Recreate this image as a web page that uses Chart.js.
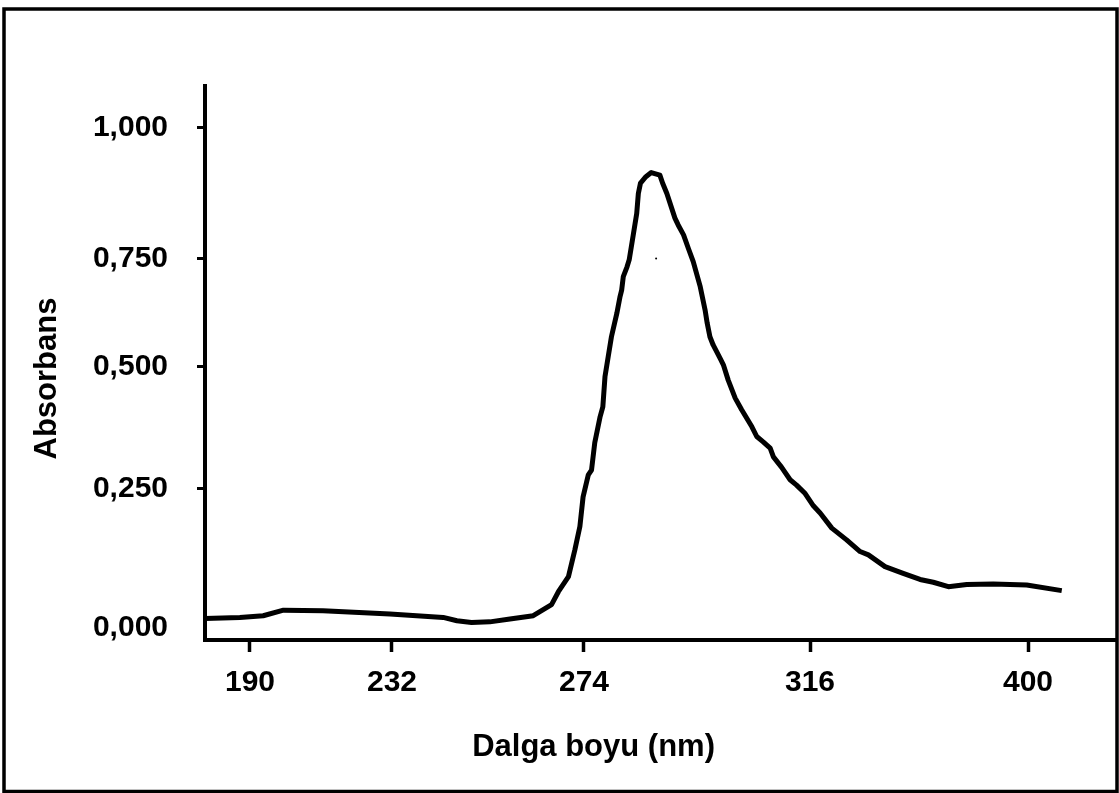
<!DOCTYPE html>
<html>
<head>
<meta charset="utf-8">
<script src="https://cdn.jsdelivr.net/npm/chart.js@4"></script>
<style>
  body { margin: 0; background: #fff; }
  canvas { display: block; }
</style>
</head>
<body>
<canvas id="grafik" width="1119" height="793"></canvas>
<script>
// Okunan spektrum (dalga boyu nm, absorbans)
const dalgaBoyu = [176.7,187.0,193.9,199.9,211.6,231.4,243.2,246.2,249.4,253.4,
  257.8,262.9,266.9,268.4,270.6,272.0,273.1,273.8,274.8,275.4,
  276.0,277.0,277.5,277.9,278.5,279.1,280.1,280.7,281.0,281.3,
  282.0,282.4,283.2,283.8,284.1,284.5,285.5,286.5,288.1,288.6,
  289.4,290.9,291.5,292.5,293.4,294.3,295.6,296.5,296.9,297.4,
  298.0,299.3,299.9,300.8,302.1,303.3,305.2,306.1,307.3,308.6,
  309.2,310.7,312.3,313.5,315.1,317.3,319.9,324.4,330.1,335.3,
  338.5,344.9,351.9,358.4,363.5,369.3,376.4,386.6,399.5,413.0];
const absorbans = [0.017,0.019,0.022,0.032,0.031,0.025,0.019,0.013,0.010,0.011,
  0.016,0.022,0.042,0.065,0.092,0.140,0.182,0.235,0.278,0.288,
  0.344,0.398,0.418,0.480,0.524,0.570,0.624,0.663,0.678,0.709,
  0.732,0.748,0.799,0.837,0.875,0.895,0.907,0.915,0.910,0.895,
  0.875,0.828,0.815,0.796,0.770,0.744,0.686,0.632,0.601,0.570,
  0.551,0.520,0.505,0.473,0.436,0.412,0.377,0.357,0.346,0.333,
  0.315,0.294,0.268,0.257,0.241,0.219,0.206,0.179,0.158,0.137,
  0.131,0.110,0.098,0.087,0.082,0.074,0.078,0.079,0.077,0.067];

// grafikteki küçük leke
const lekeNm = [287.4];
const lekeAbs = [0.751];

const xTikDegerleri = [190, 232, 274, 316, 400];
const xTikEtiketleri = ['190', '232', '274', '316', '400'];
const yTikDegerleri = [0, 0.25, 0.5, 0.75, 1];
const yTikEtiketleri = ['0,000', '0,250', '0,500', '0,750', '1,000'];

const xBaslik = 'Dalga boyu (nm)';
const yBaslik = 'Absorbans';

// eksenler orijinalde düzgün aralıklı değil: parçalı doğrusal ölçek
const tramolar = {
  x: { degerler: [176.7, 190, 232, 274, 316, 400, 433.5],
       oranlar: [0, 0.04945, 0.20549, 0.41648, 0.66484, 0.90440, 1] },
  y: { degerler: [-0.0215, 0, 0.25, 0.5, 0.75, 1, 1.0802],
       oranlar: [0, 0.02166, 0.27347, 0.49278, 0.68773, 0.92419, 1] }
};

class TramosScale extends Chart.LinearScale {
  buildTicks() {
    const degerler = this.axis === 'x' ? xTikDegerleri : yTikDegerleri;
    return degerler.map(v => ({ value: v }));
  }
  getPixelForValue(v) {
    const { degerler, oranlar } = tramolar[this.id];
    let i = 1;
    while (i < degerler.length - 1 && v > degerler[i]) i++;
    const t = (v - degerler[i - 1]) / (degerler[i] - degerler[i - 1]);
    return this.getPixelForDecimal(oranlar[i - 1] + t * (oranlar[i] - oranlar[i - 1]));
  }
  getValueForPixel(p) {
    const { degerler, oranlar } = tramolar[this.id];
    const d = this.getDecimalForPixel(p);
    let i = 1;
    while (i < oranlar.length - 1 && d > oranlar[i]) i++;
    const t = (d - oranlar[i - 1]) / (oranlar[i] - oranlar[i - 1]);
    return degerler[i - 1] + t * (degerler[i] - degerler[i - 1]);
  }
}
TramosScale.id = 'tramos';
TramosScale.defaults = Chart.LinearScale.defaults;
Chart.register(TramosScale);

const yazi = '"Liberation Sans", Arial, sans-serif';

const cerceveVeBasliklar = {
  id: 'cerceveVeBasliklar',
  afterDraw(chart) {
    const { ctx, chartArea: a } = chart;
    ctx.save();
    ctx.fillStyle = '#000';
    ctx.font = 'bold 31px ' + yazi;
    ctx.textAlign = 'center';
    ctx.textBaseline = 'middle';
    ctx.fillText(xBaslik, a.left + 0.427 * (a.right - a.left), a.bottom + 107);
    ctx.translate(47, a.top + 0.528 * (a.bottom - a.top));
    ctx.rotate(-Math.PI / 2);
    ctx.fillText(yBaslik, 0, 0);
    ctx.restore();

    ctx.save();
    ctx.strokeStyle = '#000';
    ctx.lineWidth = 3.5;
    ctx.strokeRect(4, 9, 1113, 782.5);
    ctx.restore();
  }
};

new Chart(document.getElementById('grafik'), {
  type: 'line',
  data: {
    datasets: [{
      data: dalgaBoyu.map((x, i) => ({ x, y: absorbans[i] })),
      borderColor: '#000',
      borderWidth: 5,
      borderJoinStyle: 'round',
      pointRadius: 0,
      tension: 0,
      fill: false
    }, {
      data: lekeNm.map((x, i) => ({ x, y: lekeAbs[i] })),
      showLine: false,
      pointRadius: 1,
      pointBorderWidth: 0,
      backgroundColor: '#000'
    }]
  },
  options: {
    responsive: false,
    animation: false,
    layout: { padding: { left: 0, top: 86, right: 4, bottom: 0 } },
    plugins: { legend: { display: false }, tooltip: { enabled: false } },
    scales: {
      x: {
        type: 'tramos',
        min: 176.7,
        max: 433.5,
        afterFit: s => { s.height = 153; },
        border: { display: true, color: '#000', width: 4 },
        grid: { drawOnChartArea: false, drawTicks: true, tickLength: 12, tickWidth: 3.5, color: '#000' },
        ticks: {
          autoSkip: false,
          maxRotation: 0,
          padding: 13,
          color: '#000',
          font: { family: yazi, size: 30, weight: 'bold' },
          callback: (v, i) => xTikEtiketleri[i]
        }
      },
      y: {
        type: 'tramos',
        min: -0.0215,
        max: 1.0802,
        afterFit: s => { s.width = 205; },
        border: { display: true, color: '#000', width: 4 },
        grid: {
          drawOnChartArea: false, drawTicks: true, tickLength: 8, tickWidth: 3,
          tickColor: c => (c.tick && c.tick.value === 0 ? 'rgba(0,0,0,0)' : '#000')
        },
        ticks: {
          padding: 29,
          color: '#000',
          font: { family: yazi, size: 30, weight: 'bold' },
          callback: (v, i) => yTikEtiketleri[i]
        }
      }
    }
  },
  plugins: [cerceveVeBasliklar]
});
</script>
</body>
</html>
